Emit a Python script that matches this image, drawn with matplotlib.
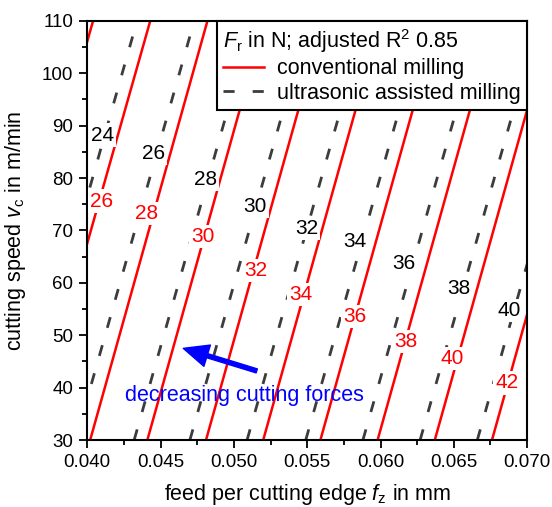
import matplotlib
matplotlib.use('Agg')
import matplotlib.pyplot as plt
from matplotlib.lines import Line2D

plt.rcParams['font.family'] = ['Liberation Sans', 'DejaVu Sans']
plt.rcParams['mathtext.fontset'] = 'custom'
plt.rcParams['mathtext.rm'] = 'Liberation Sans'
plt.rcParams['mathtext.it'] = 'Liberation Sans:italic'

# contour lines: fz where each line meets vc = 30 and vc = 110
vc_ends = [30, 110]

conv_levels = [24, 26, 28, 30, 32, 34, 36, 38, 40, 42]
conv_fz_30 = [0.0323, 0.0362, 0.0402, 0.0441, 0.0481, 0.0520, 0.0559, 0.0598, 0.0637, 0.0676]
conv_fz_110 = [0.0404, 0.0443, 0.0482, 0.0521, 0.0561, 0.0600, 0.0639, 0.0678, 0.0717, 0.0756]

us_levels = [24, 26, 28, 30, 32, 34, 36, 38, 40]
us_fz_30 = [0.0353, 0.0392, 0.0432, 0.0470, 0.0509, 0.0549, 0.0588, 0.0627, 0.0666]
us_fz_110 = [0.0434, 0.0473, 0.0513, 0.0551, 0.0590, 0.0630, 0.0669, 0.0708, 0.0747]

# inline label positions (fz, vc)
conv_lab_levels = [26, 28, 30, 32, 34, 36, 38, 40, 42]
conv_lab_fz = [0.04098, 0.04405, 0.04791, 0.05151, 0.05456, 0.05826, 0.06174, 0.06486, 0.06861]
conv_lab_vc = [75.6, 73.3, 68.9, 62.4, 57.7, 53.5, 48.8, 45.6, 40.9]

us_lab_levels = [24, 26, 28, 30, 32, 34, 36, 38, 40]
us_lab_fz = [0.04105, 0.04450, 0.04808, 0.05144, 0.05497, 0.05826, 0.06156, 0.06531, 0.06879]
us_lab_vc = [88.2, 84.6, 79.7, 74.6, 70.4, 67.8, 63.6, 58.9, 54.7]

arrow_tip = (0.04655, 47.5)
arrow_tail = (0.05156, 43.2)
note_pos = (0.05069, 38.6)

RED = '#ff0000'
GREY = '#3c3c3c'

fig = plt.figure(figsize=(5.52, 5.07), dpi=100)
ax = fig.add_axes([0.158, 0.132, 0.797, 0.827])

for f30, f110 in zip(conv_fz_30, conv_fz_110):
    ax.plot([f30, f110], vc_ends, color=RED, lw=1.8, zorder=2)
for f30, f110 in zip(us_fz_30, us_fz_110):
    ax.plot([f30, f110], vc_ends, color=GREY, lw=2.0, dashes=(4, 6.5),
            dash_capstyle='butt', zorder=2)

box = dict(facecolor='white', edgecolor='none', pad=1.5)
for lev, x, y in zip(conv_lab_levels, conv_lab_fz, conv_lab_vc):
    ax.text(x, y, str(lev), color=RED, fontsize=15, ha='center', va='center',
            bbox=box, zorder=3)
for lev, x, y in zip(us_lab_levels, us_lab_fz, us_lab_vc):
    ax.text(x, y, str(lev), color='black', fontsize=15, ha='center', va='center',
            bbox=box, zorder=3)

ax.annotate('', xy=arrow_tip, xytext=arrow_tail,
            arrowprops=dict(facecolor='#0000ff', edgecolor='#0000ff',
                            width=3, headwidth=16, headlength=18, shrink=0),
            zorder=4)
ax.text(note_pos[0], note_pos[1], 'decreasing cutting forces', color='#0000ff',
        fontsize=15.5, ha='center', va='center', zorder=4)

ax.set_xlim(0.040, 0.070)
ax.set_ylim(30, 110)
ax.set_xticks([0.040, 0.045, 0.050, 0.055, 0.060, 0.065, 0.070])
ax.set_xticklabels(['0.040', '0.045', '0.050', '0.055', '0.060', '0.065', '0.070'])
ax.set_xticks([0.0425, 0.0475, 0.0525, 0.0575, 0.0625, 0.0675], minor=True)
ax.set_yticks(range(30, 111, 10))
ax.set_yticks(range(35, 110, 10), minor=True)
ax.tick_params(which='major', length=6, width=1.3, labelsize=13.5, pad=4)
ax.tick_params(which='minor', length=3.5, width=1.3)
for s in ax.spines.values():
    s.set_linewidth(1.5)

ax.set_xlabel('feed per cutting edge $f_\\mathrm{z}$ in mm', fontsize=15.5, labelpad=8)
ax.set_ylabel('cutting speed $v_\\mathrm{c}$ in m/min', fontsize=15.5, labelpad=10)

handles = [Line2D([], [], color=RED, lw=1.8),
           Line2D([], [], color=GREY, lw=2.0, dashes=(4, 6.5), dash_capstyle='butt')]
leg = ax.legend(handles, ['conventional milling', 'ultrasonic assisted milling'],
                title='$F_\\mathrm{r}$ in N; adjusted R$^2$ 0.85',
                loc='upper right', borderaxespad=0, fancybox=False, framealpha=1,
                edgecolor='black', fontsize=15.5, title_fontsize=15.5,
                alignment='left', handlelength=1.9, handletextpad=0.6,
                labelspacing=0.15, borderpad=0.3)
leg.get_frame().set_linewidth(1.5)
leg.set_zorder(5)

fig.savefig('out.png', dpi=100)
